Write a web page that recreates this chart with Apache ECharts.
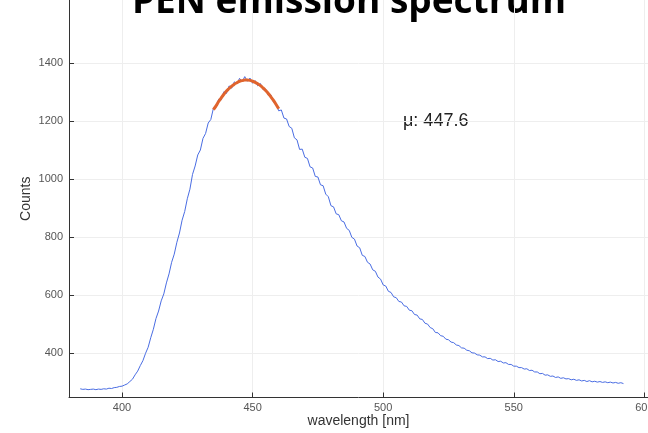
<!DOCTYPE html>
<html>
<head>
<meta charset="utf-8">
<script src="https://cdn.jsdelivr.net/npm/echarts@6/dist/echarts.min.js"></script>
<style>
  html, body { margin: 0; padding: 0; background: #fff; }
  #chart { width: 648px; height: 433px; }
</style>
</head>
<body>
<div id="chart"></div>
<script>
// measured spectrum, 1 nm steps starting at 384 nm
const startWl = 384;
const counts = [
  278, 276, 277, 275, 276, 277, 275, 277, 276, 278,
  277, 280, 279, 282, 283, 286, 287, 291, 295, 303,
  311, 326, 339, 358, 375, 400, 421, 454, 483, 520,
  546, 581, 605, 643, 674, 714, 742, 783, 815, 859,
  889, 933, 966, 1017, 1046, 1084, 1101, 1141, 1158, 1194,
  1206, 1245, 1248, 1276, 1274, 1302, 1296, 1322, 1314, 1336,
  1329, 1348, 1336, 1354, 1338, 1349, 1331, 1340, 1322, 1330,
  1309, 1311, 1290, 1291, 1266, 1262, 1236, 1239, 1211, 1208,
  1182, 1176, 1143, 1136, 1103, 1104, 1076, 1072, 1043, 1039,
  1010, 1008, 981, 978, 949, 940, 909, 905, 881, 878,
  857, 853, 831, 824, 800, 794, 770, 764, 738, 734,
  714, 708, 688, 683, 663, 656, 636, 632, 614, 610,
  595, 592, 579, 577, 564, 562, 549, 547, 534, 532,
  519, 517, 504, 501, 489, 485, 472, 471, 461, 459,
  449, 447, 439, 437, 429, 427, 419, 418, 411, 409,
  402, 401, 395, 394, 388, 388, 382, 383, 377, 378,
  372, 373, 367, 368, 362, 362, 356, 356, 351, 351,
  346, 347, 341, 342, 336, 336, 330, 331, 325, 326,
  321, 322, 317, 319, 314, 316, 312, 313, 309, 311,
  307, 309, 305, 307, 303, 306, 302, 304, 301, 303,
  300, 302, 299, 301, 298, 300, 297, 299, 296
];

// gaussian fit around the peak, 1 nm steps starting at 435 nm
const fitStart = 435;
const fitCounts = [
  1240, 1253, 1268, 1281, 1293, 1304, 1313, 1321, 1328, 1333,
  1338, 1340, 1342, 1342, 1341, 1338, 1334, 1329, 1323, 1315,
  1306, 1296, 1284, 1272, 1258, 1243
];

const xTicks = [400, 450, 500, 550, 600];
const yTicks = [400, 600, 800, 1000, 1200, 1400];
const fitLabel = "\u03bc: 447.6";

const spectrum = counts.map((c, i) => [startWl + i, c]);
const fit = fitCounts.map((c, i) => [fitStart + i, c]);

const axisColor = "#333";
const labelColor = "#555";
const gridColor = "#eeeeee";
const font = "Liberation Sans";

const chart = echarts.init(document.getElementById("chart"));

chart.setOption({
  animation: false,
  backgroundColor: "#fff",
  grid: { left: 69, right: 0, top: 0, bottom: 35.5, outerBoundsMode: "none", containLabel: false },
  xAxis: {
    type: "value",
    min: 379.7,
    max: 601.4,
    name: "wavelength [nm]",
    nameLocation: "middle",
    nameGap: 17,
    nameMoveOverlap: false,
    nameTextStyle: { color: "#333", fontSize: 14, fontFamily: font },
    axisLine: { lineStyle: { color: axisColor, width: 1 } },
    axisTick: { inside: true, length: 5, customValues: xTicks, lineStyle: { color: axisColor } },
    axisLabel: {
      customValues: xTicks, margin: 5, color: labelColor, fontSize: 11, fontFamily: font,
      formatter: v => String(v)
    },
    splitLine: { show: true, lineStyle: { color: gridColor } }
  },
  yAxis: {
    type: "value",
    min: 248,
    max: 1618,
    name: "Counts",
    nameLocation: "middle",
    nameGap: 36,
    nameMoveOverlap: false,
    nameTextStyle: { color: "#333", fontSize: 14, fontFamily: font },
    axisLine: { show: true, lineStyle: { color: axisColor, width: 1 } },
    axisTick: { show: true, inside: true, length: 5, customValues: yTicks, lineStyle: { color: axisColor } },
    axisLabel: {
      customValues: yTicks, margin: 6, color: labelColor, fontSize: 11, fontFamily: font,
      formatter: v => String(v)
    },
    splitLine: { show: true, lineStyle: { color: gridColor } }
  },
  series: [
    {
      type: "line",
      data: spectrum,
      showSymbol: false,
      sampling: null,
      lineStyle: { color: "#4a6de3", width: 1 },
      z: 2
    },
    {
      type: "line",
      data: fit,
      showSymbol: false,
      smooth: true,
      lineStyle: { color: "#e0642d", width: 3 },
      z: 3
    }
  ],
  graphic: [
    {
      type: "text",
      left: 403,
      top: 112,
      style: { text: fitLabel, font: "18px " + font, fill: "#222" }
    },
    {
      type: "text",
      x: 349,
      y: 21,
      style: {
        text: "PEN emission spectrum",
        font: "bold 37px 'Open Sans'",
        fill: "#000",
        textAlign: "center",
        textVerticalAlign: "bottom"
      }
    }
  ]
});
</script>
</body>
</html>
